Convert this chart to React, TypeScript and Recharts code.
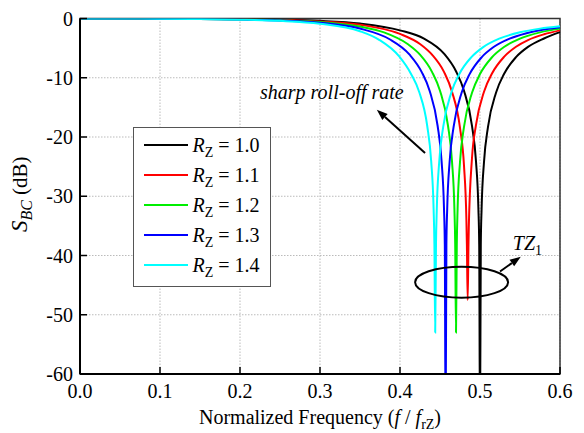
import React from 'react';
import {
  LineChart, Line, XAxis, YAxis, CartesianGrid, Legend,
  ReferenceDot, ReferenceLine, ReferenceArea,
} from 'recharts';

const FONT = 'Liberation Serif, DejaVu Serif, Tinos, Times New Roman, Times, serif';

const xTicks = [0, 0.1, 0.2, 0.3, 0.4, 0.5, 0.6];
const yTicks = [0, -10, -20, -30, -40, -50, -60];

// R_Z = 1.0
const freq10 = [0, 0.05, 0.1, 0.15, 0.2, 0.25, 0.3, 0.35, 0.4, 0.43, 0.455, 0.47, 0.48, 0.49, 0.495, 0.498, 0.499, 0.5, 0.501, 0.502, 0.505, 0.51, 0.52, 0.53, 0.545, 0.56, 0.58, 0.6];
const sbc10 = [0, 0, -0.02, -0.05, -0.1, -0.2, -0.4, -0.85, -2.0, -3.4, -5.93, -8.91, -12.2, -18.11, -24.12, -32.09, -38.12, -70, -38.14, -32.13, -24.21, -18.28, -12.53, -9.37, -6.52, -4.79, -3.37, -2.3];

// R_Z = 1.1
const freq11 = [0, 0.05, 0.1, 0.15, 0.2, 0.25, 0.3, 0.35, 0.4, 0.425, 0.44, 0.455, 0.465, 0.475, 0.48, 0.483, 0.4836, 0.4846, 0.4856, 0.486, 0.49, 0.495, 0.505, 0.515, 0.53, 0.545, 0.56, 0.58, 0.6];
const sbc11 = [0, 0, -0.02, -0.06, -0.12, -0.24, -0.5, -1.05, -2.6, -4.3, -6.1, -9.01, -12.36, -18.46, -24.84, -34.02, -38.1, -47.5, -38.16, -35.24, -23.55, -17.95, -12.37, -9.28, -6.48, -4.77, -3.64, -2.67, -2.0];

// R_Z = 1.2
const freq12 = [0, 0.05, 0.1, 0.15, 0.2, 0.25, 0.3, 0.35, 0.38, 0.41, 0.425, 0.44, 0.45, 0.46, 0.465, 0.468, 0.469, 0.47, 0.471, 0.472, 0.475, 0.48, 0.49, 0.5, 0.515, 0.53, 0.55, 0.575, 0.6];
const sbc12 = [0, 0, -0.03, -0.07, -0.15, -0.29, -0.6, -1.35, -2.35, -4.35, -6.1, -9.0, -12.19, -18.1, -24.12, -32.09, -38.12, -53, -38.14, -32.13, -24.21, -18.29, -12.54, -9.38, -6.54, -4.81, -3.39, -2.34, -1.71];

// R_Z = 1.3
const freq13 = [0, 0.05, 0.1, 0.15, 0.2, 0.25, 0.3, 0.35, 0.387, 0.412, 0.427, 0.437, 0.447, 0.452, 0.455, 0.456, 0.457, 0.458, 0.459, 0.462, 0.467, 0.477, 0.487, 0.502, 0.517, 0.537, 0.557, 0.58, 0.6];
const sbc13 = [0, -0.01, -0.03, -0.08, -0.17, -0.35, -0.72, -1.7, -3.5, -6.1, -9.0, -12.18, -18.1, -24.12, -32.09, -38.12, -70, -38.14, -32.13, -24.21, -18.29, -12.54, -9.39, -6.55, -4.82, -3.4, -2.52, -1.87, -1.49];

// R_Z = 1.4
const freq14 = [0, 0.05, 0.1, 0.15, 0.2, 0.25, 0.3, 0.35, 0.374, 0.399, 0.414, 0.424, 0.434, 0.439, 0.442, 0.443, 0.444, 0.445, 0.446, 0.449, 0.454, 0.464, 0.474, 0.489, 0.504, 0.524, 0.55, 0.575, 0.6];
const sbc14 = [0, -0.01, -0.03, -0.09, -0.2, -0.4, -0.88, -2.15, -3.6, -6.4, -9.4, -12.4, -18.1, -24.12, -32.09, -38.1, -53, -38.1, -32.13, -24.21, -18.29, -12.55, -9.4, -6.56, -4.83, -3.41, -2.33, -1.71, -1.31];

const zip = (f: number[], s: number[]) => f.map((v, i) => ({ f: v, s: s[i] }));

const series = [
  { label: '1.0', color: '#000000', data: zip(freq10, sbc10) },
  { label: '1.1', color: '#ff0000', data: zip(freq11, sbc11) },
  { label: '1.2', color: '#00ee00', data: zip(freq12, sbc12) },
  { label: '1.3', color: '#0000ff', data: zip(freq13, sbc13) },
  { label: '1.4', color: '#00ffff', data: zip(freq14, sbc14) },
];

const XTick = ({ x, y, payload }: any) => (
  <g>
    <line x1={x} y1={y} x2={x} y2={y - 7} stroke="#000" strokeWidth={1.5} />
    <text x={x} y={y + 24} textAnchor="middle" fontFamily={FONT} fontSize={20} fill="#000">
      {Number(payload.value).toFixed(1)}
    </text>
  </g>
);

const YTick = ({ x, y, payload }: any) => (
  <g>
    <line x1={x} y1={y} x2={x + 7} y2={y} stroke="#000" strokeWidth={1.5} />
    <text x={x - 7} y={y} dy="0.35em" textAnchor="end" fontFamily={FONT} fontSize={20} fill="#000">
      {payload.value}
    </text>
  </g>
);

const XTitle = ({ viewBox }: any) => (
  <text x={viewBox.x + viewBox.width / 2} y={viewBox.y + 50} textAnchor="middle" fontFamily={FONT} fontSize={20} fill="#000">
    Normalized Frequency (<tspan fontStyle="italic">f</tspan>{' / '}<tspan fontStyle="italic">f</tspan>
    <tspan fontSize={14} dy={5}>rZ</tspan><tspan dy={-5}>)</tspan>
  </text>
);

const YTitle = ({ viewBox }: any) => {
  const cx = viewBox.x + 19;
  const cy = viewBox.y + viewBox.height / 2 - 2;
  return (
    <text x={cx} y={cy} transform={`rotate(-90, ${cx}, ${cy})`} textAnchor="middle" fontFamily={FONT} fill="#000">
      <tspan fontStyle="italic" fontSize={23}>S</tspan>
      <tspan fontStyle="italic" fontSize={16} dy={5}>BC</tspan>
      <tspan fontSize={21} dy={-5}> (dB)</tspan>
    </text>
  );
};

const Arrow = ({ x1, y1, x2, y2 }: any) => {
  const a = Math.atan2(y2 - y1, x2 - x1);
  const bx = x2 - 11 * Math.cos(a);
  const by = y2 - 11 * Math.sin(a);
  const w = 4;
  const pts = `${x2},${y2} ${bx + w * Math.sin(a)},${by - w * Math.cos(a)} ${bx - w * Math.sin(a)},${by + w * Math.cos(a)}`;
  return (
    <g>
      <line x1={x1} y1={y1} x2={bx} y2={by} stroke="#000" strokeWidth={2} />
      <polygon points={pts} fill="#000" />
    </g>
  );
};

const LegendBox = ({ payload }: any) => (
  <div style={{ width: 138, height: 160, boxSizing: 'border-box', border: '1.5px solid #555', background: '#fff', paddingTop: 1.5, fontFamily: FONT }}>
    {(payload || []).map((e: any) => (
      <div key={e.value} style={{ display: 'flex', alignItems: 'center', height: 30 }}>
        <span style={{ display: 'inline-block', width: 44, height: 2, background: e.color, marginLeft: 9.5, marginRight: 5 }} />
        <span style={{ fontSize: 20, color: '#000', whiteSpace: 'nowrap', lineHeight: '20px' }}>
          <i>R</i><sub style={{ fontSize: 14, lineHeight: 0 }}>Z</sub> = {e.value}
        </span>
      </div>
    ))}
  </div>
);

export default function App() {
  return (
    <LineChart width={576} height={425} margin={{ top: 10.5, right: 24, left: 0, bottom: 9 }} style={{ fontFamily: FONT }}>
      <CartesianGrid stroke="#bbb" strokeDasharray="1.5 1.5" />
      <ReferenceArea x1={0} x2={0.6} y1={-60} y2={0} fill="none" stroke="#333" strokeWidth={1.5} />
      <XAxis
        type="number"
        dataKey="f"
        domain={[0, 0.6]}
        ticks={xTicks}
        height={50}
        tickSize={0}
        tickMargin={0}
        tick={XTick}
        axisLine={{ stroke: '#000', strokeWidth: 2 }}
        tickLine={false}
        label={{ content: XTitle }}
      />
      <YAxis
        type="number"
        dataKey="s"
        domain={[-60, 0]}
        allowDataOverflow
        ticks={yTicks}
        width={72}
        tickSize={0}
        tickMargin={0}
        tick={YTick}
        axisLine={{ stroke: '#000', strokeWidth: 2 }}
        tickLine={false}
        label={{ content: YTitle }}
      />
      {series.map((s) => (
        <Line
          key={s.label}
          data={s.data}
          dataKey="s"
          name={s.label}
          type="monotone"
          stroke={s.color}
          strokeWidth={2}
          dot={false}
          activeDot={false}
          isAnimationActive={false}
        />
      ))}
      <ReferenceDot
        x={0.477}
        y={-44.5}
        shape={(p: any) => <ellipse cx={p.cx} cy={p.cy} rx={46.5} ry={15.5} fill="none" stroke="#000" strokeWidth={2} />}
      />
      <ReferenceLine segment={[{ x: 0.525, y: -42.7 }, { x: 0.551, y: -40.2 }]} shape={Arrow} />
      <ReferenceLine segment={[{ x: 0.4313, y: -22.7 }, { x: 0.371, y: -15.4 }]} shape={Arrow} />
      <ReferenceDot
        x={0.541}
        y={-39}
        shape={(p: any) => (
          <text x={p.cx} y={p.cy} fontFamily={FONT} fontSize={20} fontStyle="italic" fill="#000">
            TZ<tspan fontStyle="normal" fontSize={14} dy={5}>1</tspan>
          </text>
        )}
      />
      <ReferenceDot
        x={0.225}
        y={-13.6}
        shape={(p: any) => (
          <text x={p.cx} y={p.cy} fontFamily={FONT} fontSize={20} fontStyle="italic" fill="#000">
            sharp roll-off rate
          </text>
        )}
      />
      <Legend
        layout="vertical"
        align="center"
        verticalAlign="middle"
        content={LegendBox}
        wrapperStyle={{ left: 125, top: 119, width: 138 }}
      />
    </LineChart>
  );
}
